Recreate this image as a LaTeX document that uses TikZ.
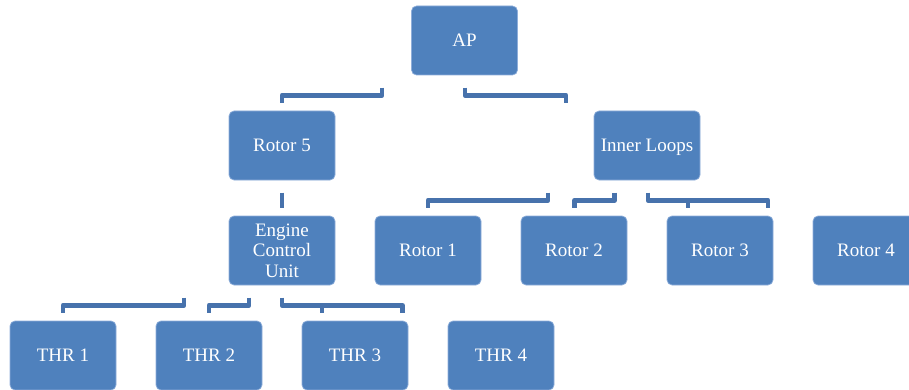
\documentclass[tikz,border=0pt]{standalone}
\usepackage{fontspec}
\setmainfont{Liberation Serif}
\usetikzlibrary{calc}

\definecolor{boxfill}{HTML}{4F81BD}
\definecolor{boxrim}{HTML}{8FAEDA}
\definecolor{linkcol}{HTML}{4772AC}

\tikzset{
  unitbox/.style={
    rectangle, rounded corners=5pt, fill=boxfill, draw=boxrim, line width=0.7pt,
    minimum width=106pt, minimum height=69pt, inner sep=0pt,
    text=white, align=center,
    font=\fontsize{19}{20.4}\selectfont
  },
  % single-line labels: keep the caps centred whatever the descenders
  oneline/.style={unitbox, text height=13pt, text depth=0.6pt},
  link/.style={draw=linkcol, line width=4.8pt, line join=round, line cap=butt}
}

\begin{document}
\begin{tikzpicture}[x=1pt,y=-1pt]
  \useasboundingbox (0,0) rectangle (909,390);

  % top level
  \node[oneline] (ap) at (464.5,40.5) {AP};

  % second level
  \node[oneline] (r5) at (282,145.5) {Rotor 5};
  \node[oneline] (il) at (647,145.5) {Inner Loops};

  % third level
  \node[unitbox] (ecu) at (282,250.5) {Engine\\Control\\Unit};
  \node[oneline] (r1) at (428,250.5) {Rotor 1};
  \node[oneline] (r2) at (574,250.5) {Rotor 2};
  \node[oneline] (r3) at (720,250.5) {Rotor 3};
  \node[oneline] (r4) at (866,250.5) {Rotor 4};

  % bottom level
  \node[oneline] (t1) at (63,355.5)  {THR 1};
  \node[oneline] (t2) at (209,355.5) {THR 2};
  \node[oneline] (t3) at (355,355.5) {THR 3};
  \node[oneline] (t4) at (501,355.5) {THR 4};

  % AP to second level
  \draw[link] ($(ap.south)+(-82.5,12.3)$) -- ++(0,7.7) -| ($(r5.north)+(0,-7.7)$);
  \draw[link] ($(ap.south)+(0.5,12.3)$) -- ++(0,7.7) -| ($(il.north)+(-81,-7.7)$);

  % Rotor 5 to engine control unit
  \draw[link] ($(r5.south)+(0,12.3)$) -- ($(ecu.north)+(0,-7.7)$);

  % inner loops to rotors
  \draw[link] ($(il.south)+(-99,12.3)$) -- ++(0,7.7) -| ($(r1.north)+(0,-7.7)$);
  \draw[link] ($(il.south)+(-32.5,12.3)$) -- ++(0,7.7) -| ($(r2.north)+(0.5,-7.7)$);
  \draw[link] ($(il.south)+(1,12.3)$) -- ++(0,7.7) -| ($(r3.north)+(48,-7.7)$);
  \draw[link] ($(r3.north)+(-32,-15.4)$) -- ($(r3.north)+(-32,-7.7)$);

  % engine control unit to thrusters
  \draw[link] ($(ecu.south)+(-98,12.3)$) -- ++(0,7.7) -| ($(t1.north)+(0,-7.7)$);
  \draw[link] ($(ecu.south)+(-33,12.3)$) -- ++(0,7.7) -| ($(t2.north)+(0,-7.7)$);
  \draw[link] ($(ecu.south)+(0,12.3)$) -- ++(0,7.7) -| ($(t3.north)+(47.5,-7.7)$);
  \draw[link] ($(t3.north)+(-33,-15.4)$) -- ($(t3.north)+(-33,-7.7)$);
\end{tikzpicture}
\end{document}
